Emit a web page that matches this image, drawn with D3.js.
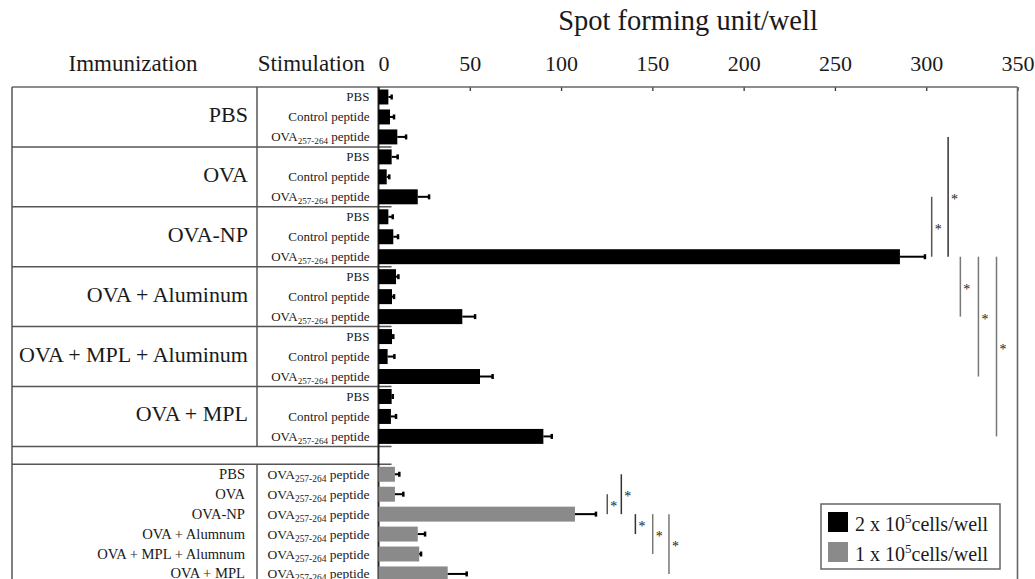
<!DOCTYPE html>
<html><head><meta charset="utf-8">
<script src="https://cdn.jsdelivr.net/npm/d3@7"></script>
<style>
body{margin:0;background:#fff}
svg{display:block}
text{font-family:"Liberation Serif","Times New Roman",serif;fill:#1a1a1a}
</style>
</head><body><svg id="c" width="1035" height="579"></svg>
<script>
// ---------- data ----------
const immunizations = ["PBS","OVA","OVA-NP","OVA + Aluminum","OVA + MPL + Aluminum","OVA + MPL"];
const stimulations = ["PBS","Control peptide","OVA257-264 peptide"];
const cells2Values = [5.4,6.3,10.3, 7.2,4.5,21.5, 5.4,8.1,285.6, 9.6,7.4,45.9, 7.4,5.0,55.6, 7.2,6.8,90.3];
const cells2Errors = [1.8,2.2,4.8, 3.3,1.4,6.2, 2.4,2.6,13.7, 1.3,1.1,7.0, 0.7,3.7,6.9, 0.6,2.8,4.6];
const cells1Groups = ["PBS","OVA","OVA-NP","OVA + Alumnum","OVA + MPL + Alumnum","OVA + MPL"];
const cells1Values = [9.0,9.0,107.6,21.5,22.3,37.9];
const cells1Errors = [2.4,4.6,11.5,4.0,1.0,10.4];
const tickValues = [0,50,100,150,200,250,300,350];
const sig2 = [[5,8,303],[2,8,312],[8,11,318.7],[8,14,328.6],[8,17,338.5]];
const sig1 = [[1,2,125.3],[0,2,133],[2,3,140.7],[2,4,150.2],[2,5,159.1]];
const legendItems = [["2 x 10","5","cells/well"],["1 x 10","5","cells/well"]];

// ---------- layout ----------
const svg = d3.select("#c");
const L = 12, COL = 257, TOP = 87, BOTTOM = 579;
const x = d3.scaleLinear().domain([0,350]).range([378.5,1017.5]);
const rows2 = d3.range(cells2Values.length);
const y2 = d3.scaleBand().domain(rows2).range([TOP,446.4]).paddingInner(0.25).paddingOuter(0.125);
const rows1 = d3.range(cells1Values.length);
const y1 = d3.scaleBand().domain(rows1).range([464.3,583.9]).paddingInner(0.25).paddingOuter(0.125);
const step2 = y2.step(), step1 = y1.step();
const BLACK = "#000", GRAY = "#8a8a8a", LINE = "#555";

// title
svg.append("text").attr("x",688).attr("y",30).attr("text-anchor","middle")
  .style("font-size","28.5px").text("Spot forming unit/well");
svg.append("text").attr("x",133).attr("y",71).attr("text-anchor","middle")
  .style("font-size","23px").text("Immunization");
svg.append("text").attr("x",365).attr("y",71).attr("text-anchor","end")
  .style("font-size","23px").text("Stimulation");

// axis
const ax = svg.append("g").attr("transform",`translate(0,${TOP})`)
  .call(d3.axisTop(x).tickValues(tickValues).tickSizeInner(-4).tickSizeOuter(0).tickPadding(16));
ax.select(".domain").remove();
ax.selectAll(".tick line").attr("stroke","#333").attr("stroke-width",1.3);
ax.selectAll(".tick text").style("font-size","22px").attr("fill","#1a1a1a")
  .style("font-family","\"Liberation Serif\",\"Times New Roman\",serif");
ax.selectAll(".tick text").filter(d=>d===0).attr("dx",5);

// table frame
const g = svg.append("g");
function hline(y,x1,x2,c,w){g.append("line").attr("x1",x1).attr("x2",x2).attr("y1",y).attr("y2",y).attr("stroke",c).attr("stroke-width",w);}
function vline(xx,ya,yb,c,w){g.append("line").attr("x1",xx).attr("x2",xx).attr("y1",ya).attr("y2",yb).attr("stroke",c).attr("stroke-width",w);}
hline(TOP,L,x(350),"#666",1.6);
vline(L,TOP,BOTTOM,LINE,1.5);
vline(x(350),TOP,BOTTOM,"#666",1.6);
const blackEnd = y2.range()[1];
const grayStart = y1.range()[0];
vline(COL,TOP,blackEnd,LINE,1.5);
vline(COL,grayStart,BOTTOM,LINE,1.5);
for(let k=1;k<=immunizations.length;k++){
  hline(TOP+3*k*step2,L,x(0)+13,LINE,1.5);
}
hline(grayStart,L,x(0)+13,LINE,1.5);

// immunization group labels
immunizations.forEach((t,i)=>{
  const cy = TOP + (3*i+1.5)*step2;
  g.append("text").attr("x",248).attr("y",cy+5).attr("text-anchor","end")
   .style("font-size","22px").text(t);
});
// stimulation labels
function stimText(sel,label,xx,yy,size){
  const t = sel.append("text").attr("x",xx).attr("y",yy).attr("text-anchor","end").style("font-size",size+"px").attr("fill","#333");
  const m = label.match(/^(OVA)(\d+-\d+)( .*)$/);
  if(m){
    t.append("tspan").text(m[1]);
    t.append("tspan").attr("dy",3).style("font-size",(size*0.7)+"px").text(m[2]);
    t.append("tspan").attr("dy",-3).text(m[3]);
  } else t.text(label);
}
rows2.forEach(i=>{
  stimText(g,stimulations[i%3],369.5,y2(i)+y2.bandwidth()/2+4.5,13);
});
cells1Groups.forEach((t,i)=>{
  g.append("text").attr("x",245).attr("y",y1(i)+y1.bandwidth()/2+4.5).attr("text-anchor","end")
   .style("font-size","14.6px").attr("fill","#333").text(t);
  stimText(g,stimulations[2],369.5,y1(i)+y1.bandwidth()/2+4.5,13.5);
});

// bars
function drawBars(vals,errs,yS,color){
  const b = svg.append("g");
  b.selectAll("rect").data(vals).join("rect")
    .attr("x",x(0)).attr("y",(d,i)=>yS(i)).attr("width",d=>x(d)-x(0)).attr("height",yS.bandwidth())
    .attr("fill",color);
  b.selectAll("line.eb").data(vals).join("line").attr("class","eb")
    .attr("x1",d=>x(d)).attr("x2",(d,i)=>x(d+errs[i]))
    .attr("y1",(d,i)=>yS(i)+yS.bandwidth()/2).attr("y2",(d,i)=>yS(i)+yS.bandwidth()/2)
    .attr("stroke","#000").attr("stroke-width",2);
  b.selectAll("line.cap").data(vals).join("line").attr("class","cap")
    .attr("x1",(d,i)=>x(d+errs[i])).attr("x2",(d,i)=>x(d+errs[i]))
    .attr("y1",(d,i)=>yS(i)+yS.bandwidth()/2-2.5).attr("y2",(d,i)=>yS(i)+yS.bandwidth()/2+2.5)
    .attr("stroke","#000").attr("stroke-width",2.5);
}
drawBars(cells2Values,cells2Errors,y2,BLACK);
drawBars(cells1Values,cells1Errors,y1,GRAY);

// y axis line
vline(x(0),TOP,BOTTOM,"#222",2);

// significance
function drawSig(list,yS,colors){
  const s = svg.append("g");
  list.forEach((d,k)=>{
    const ya = yS(d[0])+yS.bandwidth()/2, yb = yS(d[1])+yS.bandwidth()/2;
    s.append("line").attr("x1",x(d[2])).attr("x2",x(d[2])).attr("y1",ya).attr("y2",yb)
      .attr("stroke",colors[k]).attr("stroke-width",1.5);
    s.append("text").attr("x",x(d[2])+3).attr("y",(ya+yb)/2+7).style("font-size","14px")
      .attr("fill","#777").text("*");
  });
}
drawSig(sig2,y2,["#555","#333","#777","#777","#777"]);
drawSig(sig1,y1,["#555","#333","#333","#777","#777"]);

// legend
const lg = svg.append("g");
lg.append("rect").attr("x",821).attr("y",504).attr("width",179).attr("height",65)
  .attr("fill","#fff").attr("stroke","#666").attr("stroke-width",1.5);
[BLACK,GRAY].forEach((c,i)=>{
  lg.append("rect").attr("x",828).attr("y",512+i*30).attr("width",20).attr("height",20).attr("fill",c);
  const t = lg.append("text").attr("x",855).attr("y",530.5+i*30).style("font-size","20px");
  t.append("tspan").text(legendItems[i][0]);
  t.append("tspan").attr("dy",-8).style("font-size","13px").text(legendItems[i][1]);
  t.append("tspan").attr("dy",8).text(legendItems[i][2]);
});
</script>
</body></html>
